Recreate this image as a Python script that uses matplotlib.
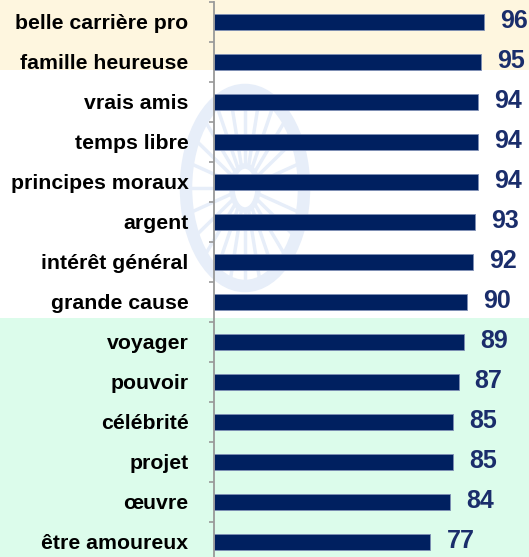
import matplotlib
matplotlib.use("Agg")
import numpy as np
import matplotlib.pyplot as plt
from matplotlib.patches import Rectangle, Ellipse

plt.rcParams["font.family"] = ["Liberation Sans", "DejaVu Sans"]

# data, top to bottom
labels = ["belle carrière pro", "famille heureuse", "vrais amis", "temps libre",
          "principes moraux", "argent", "intérêt général", "grande cause",
          "voyager", "pouvoir", "célébrité", "projet", "œuvre", "être amoureux"]
values = [96, 95, 94, 94, 94, 93, 92, 90, 89, 87, 85, 85, 84, 77]

W, H = 529, 557
fig = plt.figure(figsize=(W / 100, H / 100), dpi=100)
fig.patch.set_facecolor("white")

# background bands (pixel positions from top)
fig.patches.append(Rectangle((0, 1 - 70 / H), 1, 70 / H, transform=fig.transFigure,
                             facecolor="#FEF6DF", edgecolor="none", zorder=-10))
fig.patches.append(Rectangle((0, 0), 1, (H - 318) / H, transform=fig.transFigure,
                             facecolor="#DCFCEB", edgecolor="none", zorder=-10))

# faint wheel watermark behind the bars
wm = "#E7EEF9"
cx, cy = 245 / W, 1 - 188 / H
fig.patches.append(Ellipse((cx, cy), 118 / W, 196 / H, transform=fig.transFigure,
                           facecolor="none", edgecolor=wm, linewidth=9, zorder=-5))
fig.patches.append(Ellipse((cx, cy), 26 / W, 44 / H, transform=fig.transFigure,
                           facecolor="none", edgecolor=wm, linewidth=4, zorder=-5))
for a in np.linspace(0, 2 * np.pi, 24, endpoint=False):
    fig.add_artist(plt.Line2D([cx + 14 / W * np.cos(a), cx + 56 / W * np.cos(a)],
                              [cy + 23 / H * np.sin(a), cy + 94 / H * np.sin(a)],
                              transform=fig.transFigure, color=wm, linewidth=2.5,
                              zorder=-5))

ax = fig.add_axes([213.5 / W, 1 - 561.7 / H, (W - 213.5) / W, 560 / H])
ax.set_facecolor("none")
ax.set_zorder(1)

ypos = list(range(len(labels)))
bars = ax.barh(ypos, values, height=0.4, color="#002060",
               edgecolor="#7F8FB5", linewidth=0.6)

for b, v in zip(bars, values):
    ax.annotate(str(v), (b.get_width(), b.get_y() + b.get_height() / 2),
                xytext=(11.5, 0.5), textcoords="offset points",
                ha="left", va="center", fontsize=18, fontweight="bold",
                color="#1A2D6B")

ax.set_xlim(0, 112)
ax.set_ylim(len(labels) - 0.5, -0.5)
ax.set_yticks(ypos)
ax.set_yticklabels(labels, fontsize=15.3, fontweight="bold")
ax.set_yticks([i - 0.5 for i in range(len(labels) + 1)], minor=True)
ax.tick_params(axis="y", which="major", length=0, pad=18)
ax.tick_params(axis="y", which="minor", length=3.6, width=1.2, color="#999999")
ax.set_xticks([])

for s in ["top", "right", "bottom"]:
    ax.spines[s].set_visible(False)
ax.spines["left"].set_color("#999999")
ax.spines["left"].set_linewidth(1.3)

fig.savefig("out.png", dpi=100)
